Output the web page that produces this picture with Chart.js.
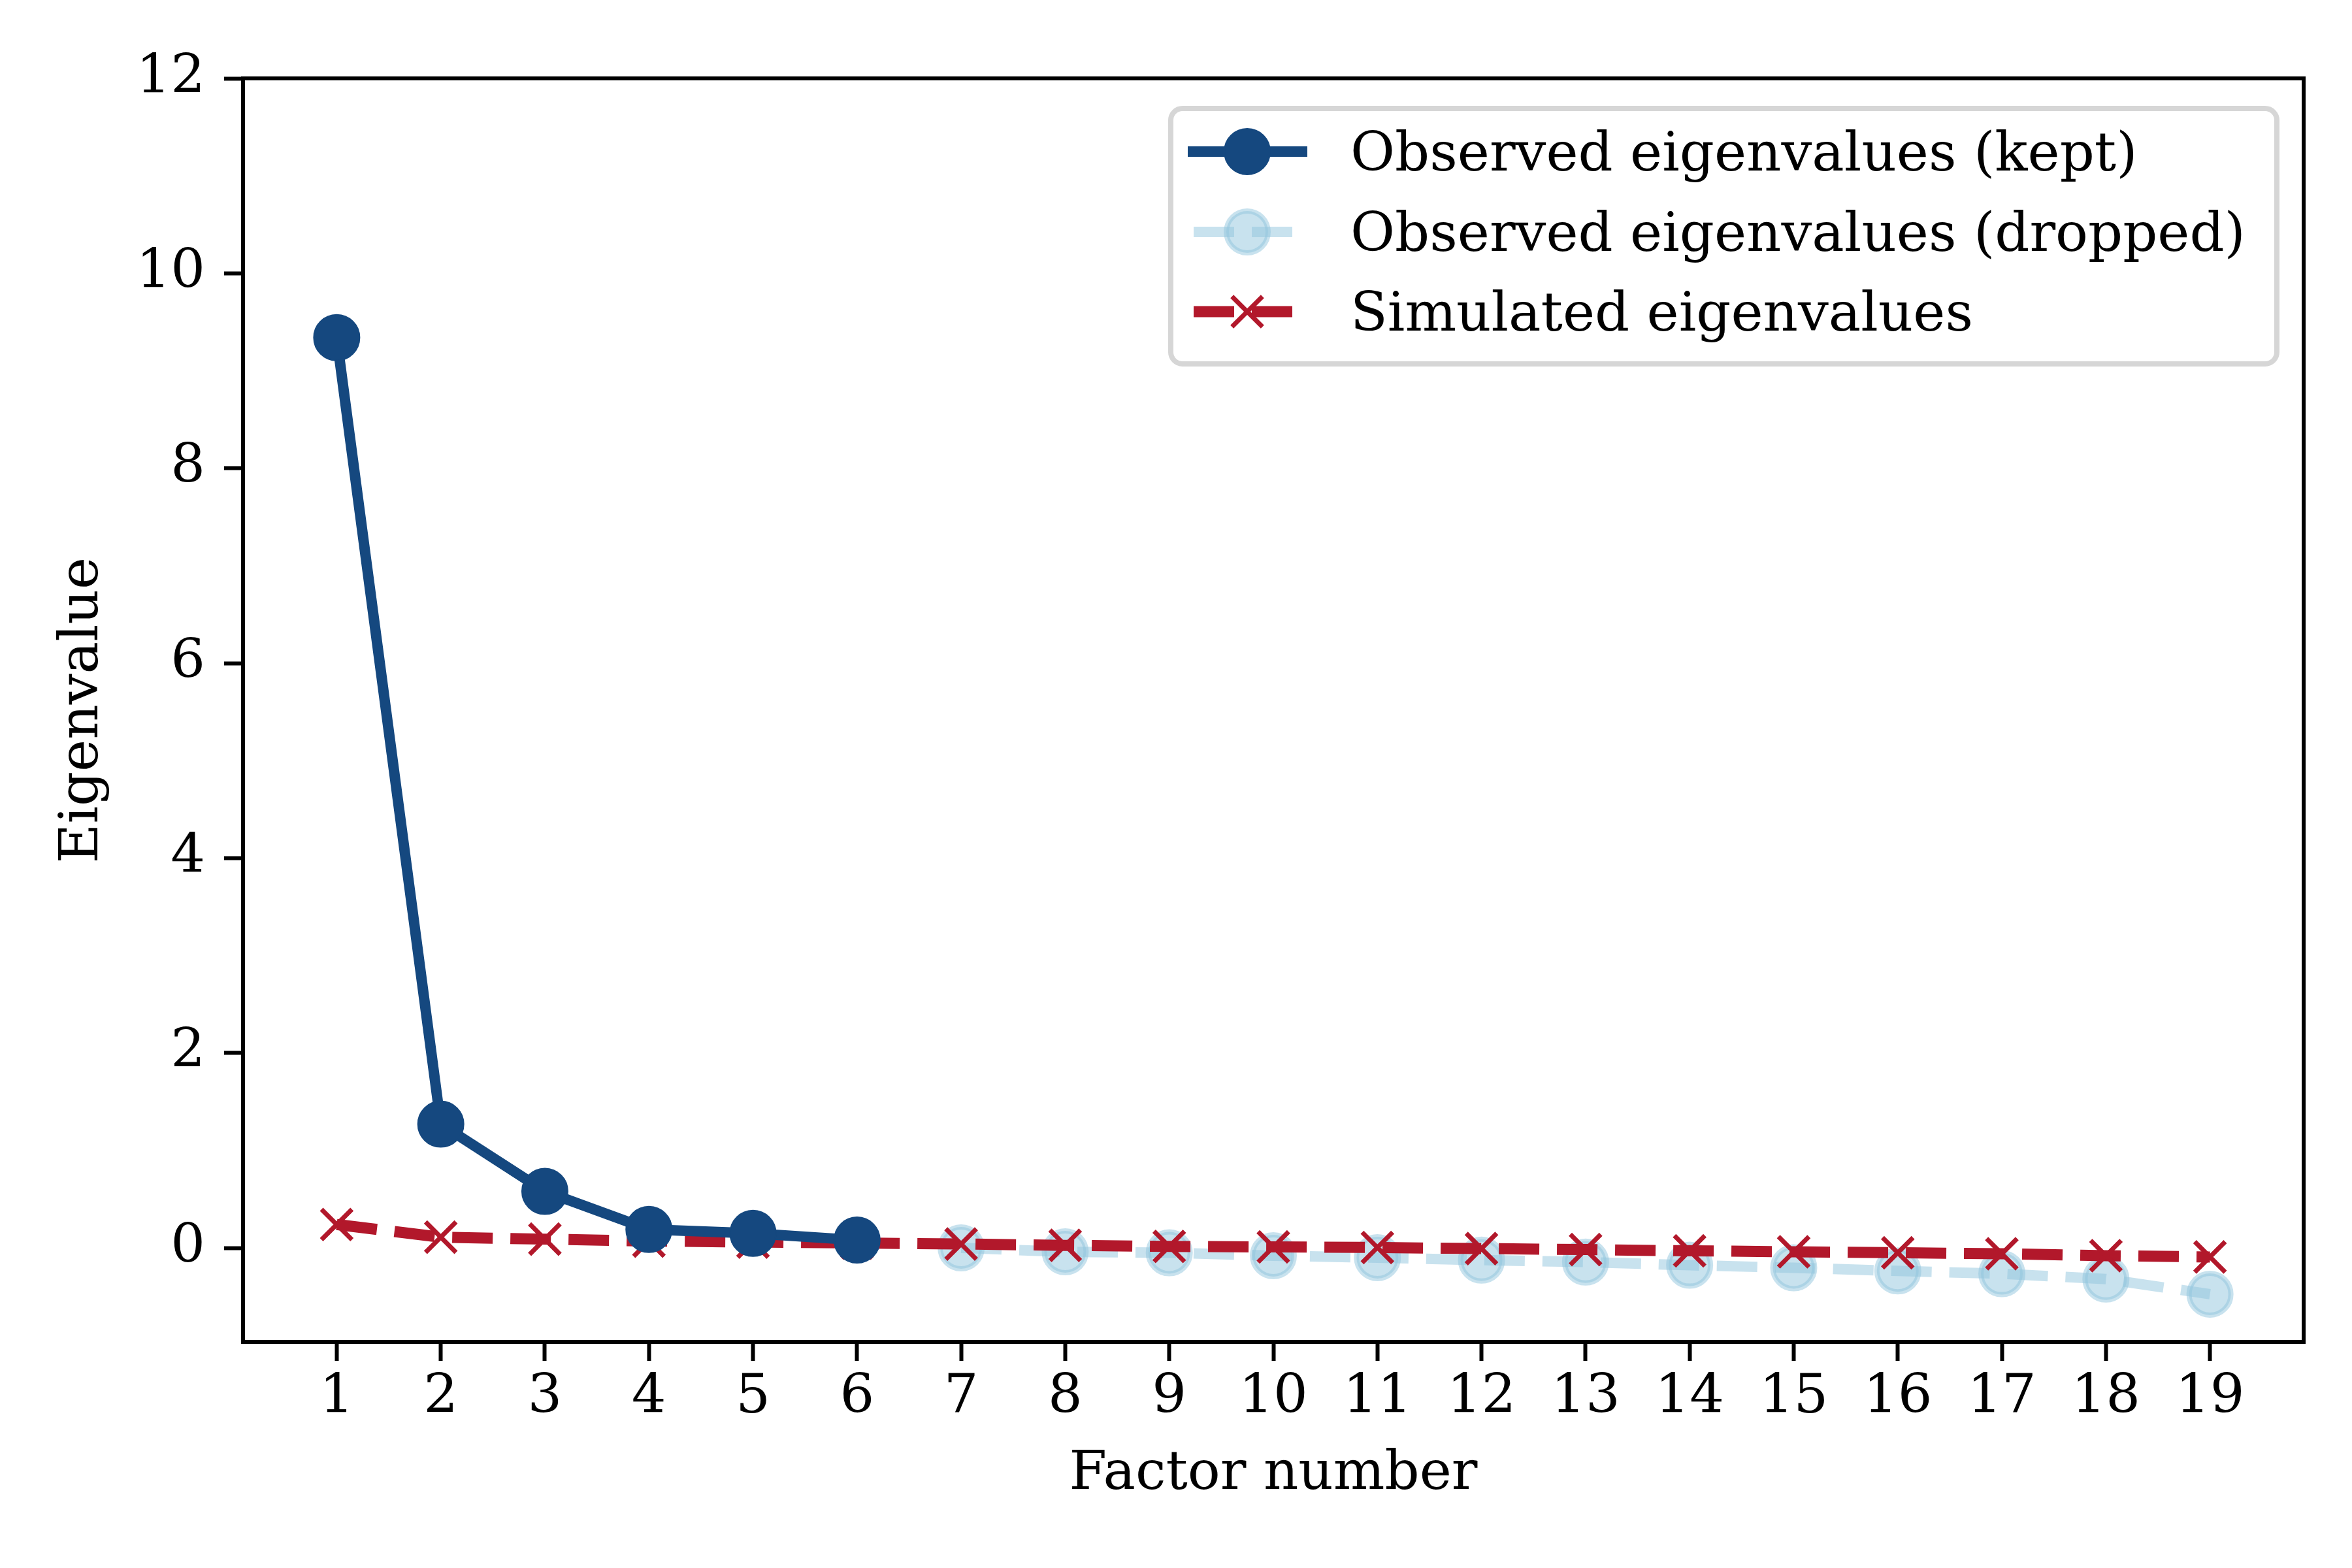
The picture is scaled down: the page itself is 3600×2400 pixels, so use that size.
<!DOCTYPE html>
<html><head><meta charset="utf-8">
<script src="https://cdn.jsdelivr.net/npm/chart.js@4/dist/chart.umd.min.js"></script>
<style>html,body{margin:0;padding:0;background:#fff;} #wrap{width:3600px;height:2400px;}</style>
</head><body><div id="wrap"><canvas id="c" width="3600" height="2400"></canvas></div>
<script>
// ---- data ----
const keptFactors = [1, 2, 3, 4, 5, 6];
const keptValues = [9.34, 1.27, 0.58, 0.19, 0.15, 0.08];
const droppedFactors = [7, 8, 9, 10, 11, 12, 13, 14, 15, 16, 17, 18, 19];
const droppedValues = [0.0, -0.04, -0.05, -0.08, -0.10, -0.125, -0.145, -0.178, -0.204, -0.236, -0.265, -0.32, -0.475];
const simFactors = [1, 2, 3, 4, 5, 6, 7, 8, 9, 10, 11, 12, 13, 14, 15, 16, 17, 18, 19];
const simValues = [0.24, 0.11, 0.09, 0.07, 0.06, 0.05, 0.04, 0.026, 0.015, 0.01, 0.004, -0.007, -0.017, -0.03, -0.04, -0.05, -0.06, -0.08, -0.093];
const xTicks = [1, 2, 3, 4, 5, 6, 7, 8, 9, 10, 11, 12, 13, 14, 15, 16, 17, 18, 19];
const yTicks = [0, 2, 4, 6, 8, 10, 12];
const seriesLabels = ['Observed eigenvalues (kept)', 'Observed eigenvalues (dropped)', 'Simulated eigenvalues'];
const xTitle = 'Factor number';
const yTitle = 'Eigenvalue';

const toPts = (xs, ys) => xs.map((x, i) => ({x: x, y: ys[i]}));

const FONT = 'DejaVu Serif';
const FS = 83;
const KEPT = '#15487f';
const LIGHT = 'rgba(146,197,222,0.5)';
const RED = '#b2182b';

Chart.defaults.font.family = FONT;
Chart.defaults.font.size = FS;
Chart.defaults.color = '#000';

const frameAndLegend = {
  id: 'frameAndLegend',
  afterDatasetsDraw(chart) {
    const {ctx, chartArea: a} = chart;
    ctx.save();
    ctx.strokeStyle = '#000';
    ctx.lineWidth = 6;
    ctx.strokeRect(a.left, a.top, a.right - a.left, a.bottom - a.top);
    ctx.restore();
  },
  afterDraw(chart) {
    const ctx = chart.ctx;
    ctx.save();
    // legend box
    const bx = 1792, by = 166, bw = 3485 - 1792, bh = 557 - 166, r = 18;
    ctx.beginPath();
    ctx.moveTo(bx + r, by);
    ctx.arcTo(bx + bw, by, bx + bw, by + bh, r);
    ctx.arcTo(bx + bw, by + bh, bx, by + bh, r);
    ctx.arcTo(bx, by + bh, bx, by, r);
    ctx.arcTo(bx, by, bx + bw, by, r);
    ctx.closePath();
    ctx.fillStyle = 'rgba(255,255,255,0.8)';
    ctx.fill();
    ctx.strokeStyle = '#d6d6d6';
    ctx.lineWidth = 8;
    ctx.stroke();

    const rows = [232, 355, 477];
    const x0 = 1818, x1 = 2001, xm = 1909;
    chart.data.datasets.forEach((ds, i) => {
      const y = rows[i];
      ctx.save();
      ctx.beginPath();
      ctx.strokeStyle = ds.borderColor;
      ctx.lineWidth = ds.borderWidth;
      ctx.lineCap = 'butt';
      if (ds.borderDash && ds.borderDash.length) {
        ctx.setLineDash(ds.borderDash);
        ctx.lineDashOffset = 80;
      }
      ctx.moveTo(x0, y); ctx.lineTo(x1, y);
      ctx.stroke();
      ctx.setLineDash([]);
      if (ds.pointStyle === 'circle') {
        ctx.beginPath();
        ctx.arc(xm, y, ds.pointRadius, 0, Math.PI * 2);
        ctx.fillStyle = ds.pointBackgroundColor;
        ctx.fill();
        ctx.lineWidth = ds.pointBorderWidth;
        ctx.strokeStyle = ds.pointBorderColor;
        ctx.stroke();
      } else {
        const o = ds.pointRadius * Math.SQRT1_2;
        ctx.beginPath();
        ctx.moveTo(xm - o, y - o); ctx.lineTo(xm + o, y + o);
        ctx.moveTo(xm - o, y + o); ctx.lineTo(xm + o, y - o);
        ctx.lineWidth = ds.pointBorderWidth;
        ctx.strokeStyle = ds.pointBorderColor;
        ctx.stroke();
      }
      ctx.restore();
      ctx.fillStyle = '#000';
      ctx.font = FS + 'px "' + FONT + '"';
      ctx.textBaseline = 'alphabetic';
      ctx.textAlign = 'left';
      ctx.fillText(ds.label, 2067, y + 29);
    });
    ctx.restore();
  }
};

new Chart(document.getElementById('c'), {
  type: 'line',
  data: {
    datasets: [
      {
        label: seriesLabels[0],
        data: toPts(keptFactors, keptValues),
        borderColor: KEPT, backgroundColor: KEPT,
        borderWidth: 16,
        pointStyle: 'circle', pointRadius: 35, pointBorderWidth: 2,
        pointBackgroundColor: KEPT, pointBorderColor: KEPT,
        order: 0, tension: 0
      },
      {
        label: seriesLabels[1],
        data: toPts(droppedFactors, droppedValues),
        borderColor: LIGHT, backgroundColor: LIGHT,
        borderWidth: 16, borderDash: [62, 27],
        pointStyle: 'circle', pointRadius: 32, pointBorderWidth: 8,
        pointBackgroundColor: LIGHT, pointBorderColor: LIGHT,
        order: 2, tension: 0
      },
      {
        label: seriesLabels[2],
        data: toPts(simFactors, simValues),
        borderColor: RED, backgroundColor: RED,
        borderWidth: 17, borderDash: [62, 27],
        pointStyle: 'crossRot', pointRadius: 33, pointBorderWidth: 7,
        pointBackgroundColor: RED, pointBorderColor: RED,
        order: 1, tension: 0
      }
    ]
  },
  options: {
    responsive: false,
    animation: false,
    devicePixelRatio: 1,
    layout: {padding: {top: 120, right: 74, left: 0, bottom: 0}},
    plugins: {legend: {display: false}, tooltip: {enabled: false}},
    elements: {line: {borderCapStyle: 'butt'}},
    scales: {
      x: {
        type: 'linear', min: 0.1, max: 19.9,
        afterBuildTicks: s => { s.ticks = xTicks.map(v => ({value: v})); },
        afterFit: s => { s.height = 346; },
        ticks: {padding: 8, font: {size: FS}, color: '#000', callback: v => String(v), maxRotation: 0, autoSkip: false},
        grid: {drawOnChartArea: false, drawTicks: true, tickLength: 29, tickWidth: 6, tickColor: '#000', color: '#000'},
        border: {display: false},
        title: {display: true, text: xTitle, font: {size: FS}, color: '#000', padding: {top: 0, bottom: 93}}
      },
      y: {
        type: 'linear', min: -0.965, max: 12,
        afterBuildTicks: s => { s.ticks = yTicks.map(v => ({value: v})); },
        afterFit: s => { s.width = 372; },
        ticks: {padding: 29, font: {size: FS}, color: '#000', callback: v => String(v), autoSkip: false},
        grid: {drawOnChartArea: false, drawTicks: true, tickLength: 29, tickWidth: 6, tickColor: '#000', color: '#000'},
        border: {display: false},
        title: {display: true, text: yTitle, font: {size: FS}, color: '#000', padding: {top: 78, bottom: 0}}
      }
    }
  },
  plugins: [frameAndLegend]
});
</script></body></html>
